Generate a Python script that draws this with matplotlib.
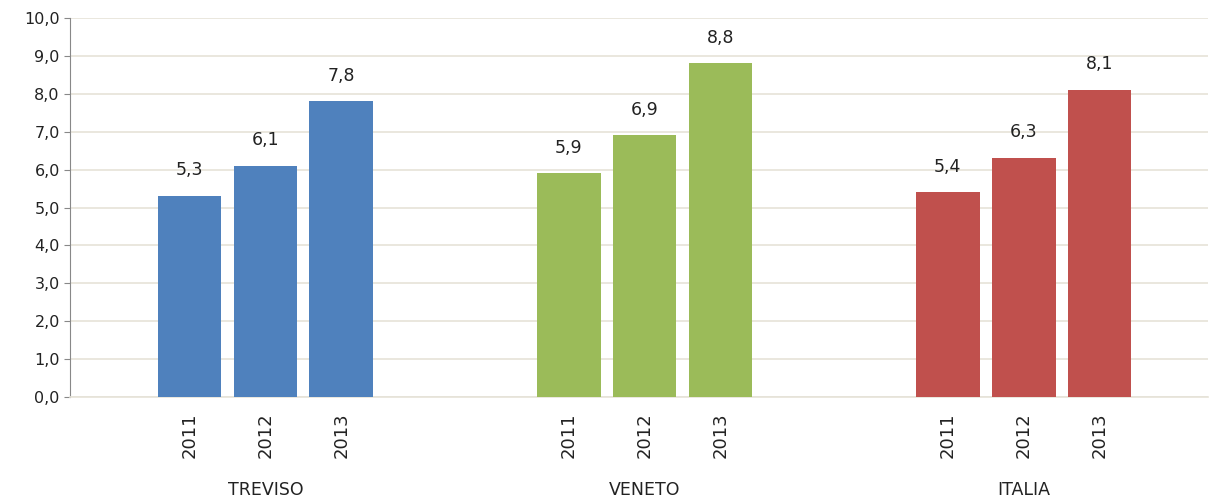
import numpy as np
import matplotlib
matplotlib.use("Agg")
import matplotlib.pyplot as plt
from matplotlib.ticker import FuncFormatter

# data
regions = ["TREVISO", "VENETO", "ITALIA"]
years = ["2011", "2012", "2013"]
treviso = [5.3, 6.1, 7.8]
veneto = [5.9, 6.9, 8.8]
italia = [5.4, 6.3, 8.1]
colors = ["#4F81BD", "#9BBB59", "#C0504D"]

series = [treviso, veneto, italia]

plt.rcParams["font.family"] = ["DejaVu Sans"]

fig = plt.figure(figsize=(12.1, 5), dpi=100)
ax = fig.add_axes([0.058, 0.206, 0.940, 0.758])

step = 0.2
width = 0.168
offset = 0.015
xticks, xlabels = [], []
for g, (vals, col) in enumerate(zip(series, colors)):
    xs = g + offset + (np.arange(len(vals)) - 1) * step
    ax.bar(xs, vals, width=width, color=col, zorder=3)
    for x, v in zip(xs, vals):
        ax.text(x, v + 0.68, f"{v:.1f}".replace(".", ","), ha="center",
                va="center", fontsize=12.5, color="#222222")
    xticks.extend(xs)
    xlabels.extend(years)
    ax.text(g + offset, -0.245, regions[g], transform=ax.get_xaxis_transform(),
            ha="center", va="center", fontsize=12.5, color="#222222")

ax.set_xlim(-0.5, 2.5)
ax.set_ylim(0, 10)
ax.set_yticks(np.arange(0, 10.1, 1))
ax.yaxis.set_major_formatter(FuncFormatter(lambda v, p: f"{v:.1f}".replace(".", ",")))
ax.set_xticks(xticks)
ax.set_xticklabels(xlabels, rotation=90, fontsize=13, color="#222222")
ax.tick_params(axis="x", length=0, pad=11)
ax.tick_params(axis="y", length=4, color="#888888", labelsize=11.5, labelcolor="#222222")

ax.grid(axis="y", color="#E6E3D8", linewidth=1.2, zorder=0)
for s in ["top", "right"]:
    ax.spines[s].set_visible(False)
ax.spines["left"].set_color("#888888")
ax.spines["bottom"].set_color("#E6E3D8")
ax.spines["bottom"].set_linewidth(1.2)

plt.savefig("out.png", dpi=100)
plt.close()
